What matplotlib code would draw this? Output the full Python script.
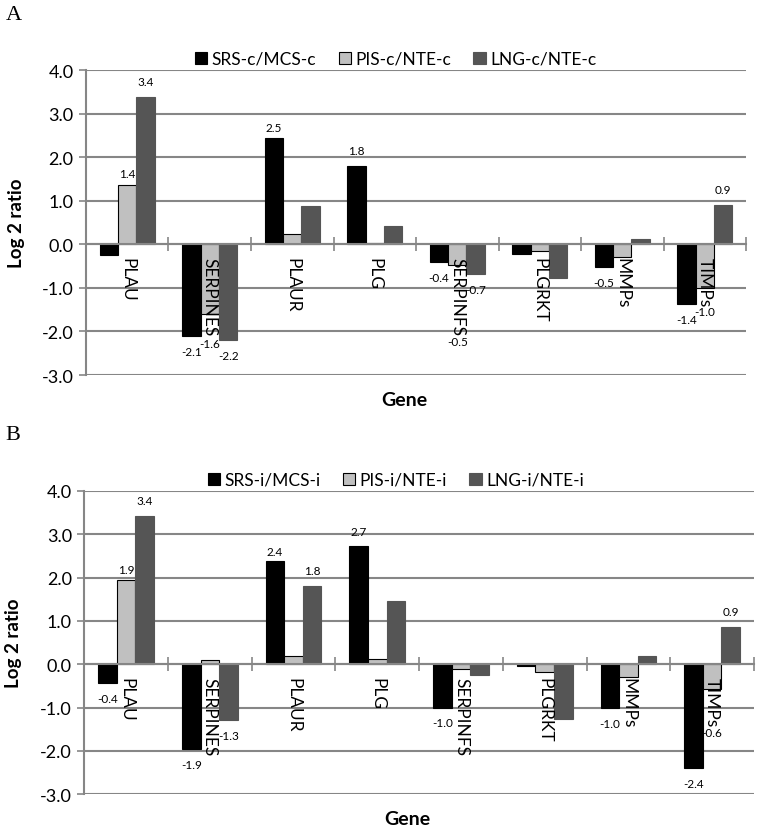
import numpy as np
import matplotlib
matplotlib.use("Agg")
import matplotlib.pyplot as plt
from matplotlib.patches import Patch

plt.rcParams['font.family'] = ['Lato', 'DejaVu Sans']

genes = ["PLAU", "SERPINES", "PLAUR", "PLG", "SERPINFS", "PLGRKT", "MMPs", "TIMPs"]

# panel A (c)
names_a = ["SRS-c/MCS-c", "PIS-c/NTE-c", "LNG-c/NTE-c"]
srs_a = [-0.24, -2.10, 2.45, 1.80, -0.40, -0.22, -0.52, -1.37]
pis_a = [1.37, -1.60, 0.23, 0.04, -0.47, -0.15, -0.30, -1.01]
lng_a = [3.38, -2.20, 0.87, 0.42, -0.68, -0.78, 0.12, 0.90]

# panel B (i)
names_b = ["SRS-i/MCS-i", "PIS-i/NTE-i", "LNG-i/NTE-i"]
srs_b = [-0.43, -1.95, 2.38, 2.72, -1.00, -0.04, -1.02, -2.39]
pis_b = [1.94, 0.09, 0.18, 0.11, -0.11, -0.19, -0.29, -0.56]
lng_b = [3.43, -1.29, 1.80, 1.46, -0.25, -1.27, 0.19, 0.86]

# which bars carry a value label: (series, gene)
labels_a = [(1, 0), (2, 0), (0, 1), (1, 1), (2, 1), (0, 2), (0, 3),
            (0, 4), (1, 4), (2, 4), (0, 6), (0, 7), (1, 7), (2, 7)]
labels_b = [(0, 0), (1, 0), (2, 0), (0, 1), (2, 1), (0, 2), (2, 2), (0, 3),
            (0, 4), (0, 6), (0, 7), (1, 7), (2, 7)]

colors = ["#000000", "#c0c0c0", "#555555"]
edges = ["#000000", "#000000", "#555555"]
grid_col = "#868686"


def draw_panel(ax, series, names, labels, extra_off, leg_x):
    x = np.arange(len(genes))
    w = 1 / 4.5
    for k, vals in enumerate(series):
        ax.bar(x + (k - 1) * w, vals, w, color=colors[k], edgecolor=edges[k],
               linewidth=0.8, zorder=2)
    for (k, g) in labels:
        v = series[k][g]
        off = extra_off.get((k, g), 11)
        dy = off if v > 0 else -off
        ax.annotate("%.1f" % v, (g + (k - 1) * w, v), xytext=(0, dy),
                    textcoords="offset points", ha="center", va="center",
                    fontsize=8.5, zorder=5)
    for g, name in enumerate(genes):
        ax.annotate(name, (g, 0), xytext=(0, -9), textcoords="offset points",
                    ha="center", va="top", rotation=270, fontsize=12.5, zorder=5)

    ax.set_xlim(-0.5, len(genes) - 0.5)
    ax.set_ylim(-3, 4)
    ax.set_yticks(np.arange(-3, 5))
    ax.set_yticklabels(["%.1f" % t for t in np.arange(-3, 5)], fontsize=13)
    ax.yaxis.grid(True, color=grid_col, linewidth=1.5)
    ax.set_axisbelow(True)
    ax.set_xticks(np.arange(len(genes) + 1) - 0.5)
    ax.set_xticklabels([])
    ax.tick_params(axis="x", direction="inout", length=10, color=grid_col, width=1.2)
    ax.tick_params(axis="y", direction="out", length=5, color=grid_col, width=1.2, pad=4)
    ax.spines["bottom"].set_position(("data", 0))
    ax.spines["bottom"].set_color(grid_col)
    ax.spines["bottom"].set_linewidth(1.5)
    ax.spines["left"].set_color(grid_col)
    ax.spines["left"].set_linewidth(1.5)
    ax.spines["top"].set_visible(False)
    ax.spines["right"].set_visible(False)

    ax.set_ylabel("Log 2 ratio", fontsize=13.5, fontweight="bold")
    ax.yaxis.set_label_coords(-0.093, 0.5)
    ax.text(0.482, -0.08, "Gene", transform=ax.transAxes, ha="center", va="center",
            fontsize=14, fontweight="bold")

    handles = [Patch(facecolor=colors[k], edgecolor=edges[k], linewidth=0.8) for k in range(3)]
    ax.legend(handles, names, ncol=3, loc="center", bbox_to_anchor=(leg_x, 1.037),
              frameon=False, fontsize=12.5, handlelength=0.7, handleheight=0.7,
              handletextpad=0.25, columnspacing=1.3)


fig = plt.figure(figsize=(7.59, 8.29), dpi=100)
ax_a = fig.add_axes([0.1133, 0.5464, 0.8696, 0.3679])
ax_b = fig.add_axes([0.1111, 0.0407, 0.8823, 0.3659])

draw_panel(ax_a, [srs_a, pis_a, lng_a], names_a, labels_a,
           {(1, 1): 21, (1, 4): 55, (1, 7): 17, (0, 2): 7, (1, 0): 8}, 0.469)
draw_panel(ax_b, [srs_b, pis_b, lng_b], names_b, labels_b,
           {(1, 7): 32, (0, 2): 7, (1, 0): 8}, 0.465)

fig.text(0.007, 0.981, "A", family="Liberation Serif", fontsize=16, va="center")
fig.text(0.007, 0.475, "B", family="Liberation Serif", fontsize=16, va="center")

fig.savefig("out.png", dpi=100)
